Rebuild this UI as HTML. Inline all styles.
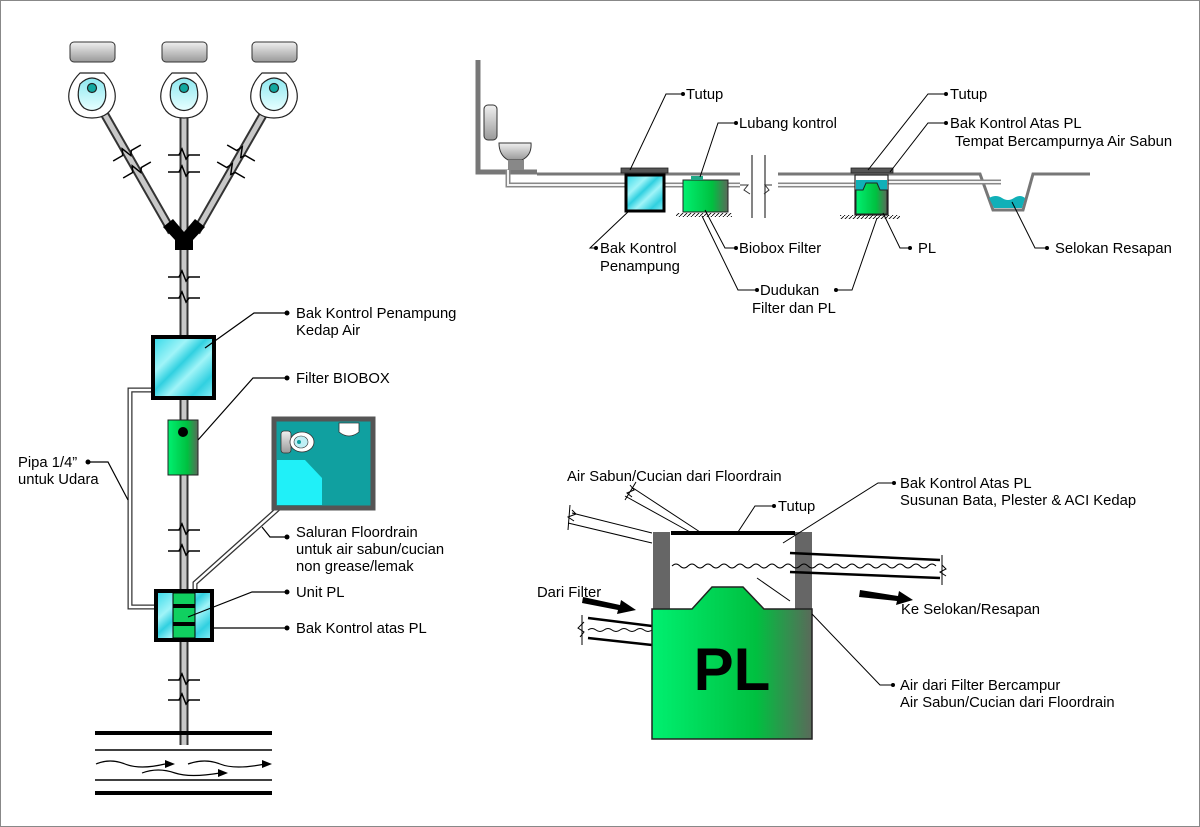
<!DOCTYPE html>
<html><head><meta charset="utf-8"><style>
html,body{margin:0;padding:0;background:#fff}
svg{display:block}
text{font-family:"Liberation Sans",sans-serif;font-size:14.8px;fill:#000}
</style></head><body>
<svg width="1200" height="827" viewBox="0 0 1200 827" xmlns="http://www.w3.org/2000/svg">
<defs>
<linearGradient id="gray" x1="0" y1="0" x2="0" y2="1"><stop offset="0" stop-color="#f0f0f0"/><stop offset="1" stop-color="#999"/></linearGradient>
<linearGradient id="grn" x1="0" y1="0" x2="1" y2="0"><stop offset="0" stop-color="#00f070"/><stop offset="0.65" stop-color="#00c040"/><stop offset="1" stop-color="#5a6a5a"/></linearGradient>
<linearGradient id="bowl" x1="0" y1="0" x2="0" y2="1"><stop offset="0" stop-color="#8de8f0"/><stop offset="1" stop-color="#e8ffff"/></linearGradient>
<linearGradient id="cy" x1="0" y1="0" x2="1" y2="1"><stop offset="0" stop-color="#30d8e8"/><stop offset="0.3" stop-color="#a0f4f8"/><stop offset="0.45" stop-color="#30d0e0"/><stop offset="0.6" stop-color="#a0f4f8"/><stop offset="0.8" stop-color="#30d0e0"/><stop offset="1" stop-color="#90f0f8"/></linearGradient>
<pattern id="hatch" width="4" height="4" patternUnits="userSpaceOnUse"><path d="M0 4 L4 0" stroke="#000" stroke-width="0.8"/></pattern>
<path id="brk" d="M-16 0 L-5 0 L-2 -6 L2 4 L5 0 L16 0" fill="none" stroke="#000" stroke-width="1.5"/>
</defs>
<rect x="0.5" y="0.5" width="1199" height="826" fill="#fff" stroke="#888"/>

<!-- LEFT DIAGRAM -->
<g stroke="#333" stroke-width="1">
<rect x="70" y="42" width="45" height="20" rx="4" fill="url(#gray)"/>
<rect x="162" y="42" width="45" height="20" rx="4" fill="url(#gray)"/>
<rect x="252" y="42" width="45" height="20" rx="4" fill="url(#gray)"/>
</g>
<g stroke="#333" stroke-width="9">
<line x1="184" y1="115" x2="184" y2="745"/>
<line x1="105" y1="115" x2="172" y2="232"/>
<line x1="263" y1="115" x2="196" y2="232"/>
</g>
<g stroke="#c8c8c8" stroke-width="5">
<line x1="184" y1="115" x2="184" y2="745"/>
<line x1="105" y1="115" x2="172" y2="232"/>
<line x1="263" y1="115" x2="196" y2="232"/>
</g>
<g stroke="#222" stroke-width="1.2">
<path d="M80 73 L104 73 Q117 86 115 100 Q111 118 92 118 Q73 118 69 100 Q67 86 80 73Z" fill="#fff"/>
<path d="M172 73 L196 73 Q209 86 207 100 Q203 118 184 118 Q165 118 161 100 Q159 86 172 73Z" fill="#fff"/>
<path d="M262 73 L286 73 Q299 86 297 100 Q293 118 274 118 Q255 118 251 100 Q249 86 262 73Z" fill="#fff"/>
<path d="M80 84 Q92 72 104 84 Q109 100 100 108 Q92 113 84 108 Q75 100 80 84Z" fill="url(#bowl)"/>
<path d="M172 84 Q184 72 196 84 Q201 100 192 108 Q184 113 176 108 Q167 100 172 84Z" fill="url(#bowl)"/>
<path d="M262 84 Q274 72 286 84 Q291 100 282 108 Q274 113 266 108 Q257 100 262 84Z" fill="url(#bowl)"/>
<circle cx="92" cy="88" r="4.5" fill="#10a8a0"/>
<circle cx="184" cy="88" r="4.5" fill="#10a8a0"/>
<circle cx="274" cy="88" r="4.5" fill="#10a8a0"/>
</g>
<path d="M163 227 L173 219 L184 232 L195 219 L205 227 L193 240 L193 250 L175 250 L175 240Z" fill="#000"/>
<!-- break marks -->
<use href="#brk" x="184" y="155"/>
<use href="#brk" x="184" y="172"/>
<use href="#brk" x="184" y="277"/>
<use href="#brk" x="184" y="298"/>
<use href="#brk" x="184" y="530"/>
<use href="#brk" x="184" y="551"/>
<use href="#brk" x="184" y="680"/>
<use href="#brk" x="184" y="700"/>
<use href="#brk" transform="translate(127,153) rotate(-30)"/>
<use href="#brk" transform="translate(137,170) rotate(-30)"/>
<use href="#brk" transform="translate(241,153) rotate(30)"/>
<use href="#brk" transform="translate(231,170) rotate(30)"/>
<path d="M152 390 L130 390 L130 607 L155 607" fill="none" stroke="#333" stroke-width="5"/>
<path d="M152 390 L130 390 L130 607 L155 607" fill="none" stroke="#fff" stroke-width="2.5"/>
<path d="M289 499 L195 583 L195 592" fill="none" stroke="#333" stroke-width="5"/>
<path d="M289 499 L195 583 L195 592" fill="none" stroke="#fff" stroke-width="2.5"/>
<rect x="153" y="337" width="61" height="61" fill="url(#cy)" stroke="#000" stroke-width="4"/>
<rect x="168" y="420" width="30" height="55" fill="url(#grn)" stroke="#222" stroke-width="1"/>
<circle cx="183" cy="432" r="5" fill="#000"/>
<rect x="156" y="591" width="56" height="49" fill="url(#cy)" stroke="#000" stroke-width="4"/>
<rect x="173" y="593" width="22" height="45" fill="#10d060" stroke="#000" stroke-width="1"/>
<rect x="173" y="604" width="22" height="4" fill="#000"/>
<rect x="173" y="622" width="22" height="4" fill="#000"/>
<rect x="274" y="419" width="99" height="89" fill="#10a0a0" stroke="#555" stroke-width="5"/>
<path d="M277 460 L305 460 L322 478 L322 505 L277 505Z" fill="#20f0f8"/>
<rect x="281" y="431" width="10" height="22" rx="3" fill="url(#gray)" stroke="#333" stroke-width="0.8"/>
<ellipse cx="302" cy="442" rx="12" ry="10" fill="#fff" stroke="#333" stroke-width="0.8"/>
<ellipse cx="301" cy="442" rx="7" ry="6" fill="#bfeff5" stroke="#333" stroke-width="0.6"/>
<circle cx="299" cy="442" r="2" fill="#10a0a0"/>
<path d="M339 423 L359 423 L359 432 Q349 440 339 432Z" fill="#fff" stroke="#333" stroke-width="0.8"/>
<g stroke="#000">
<line x1="95" y1="733" x2="272" y2="733" stroke-width="4"/>
<line x1="95" y1="750" x2="272" y2="750" stroke-width="1.5"/>
<line x1="95" y1="780" x2="272" y2="780" stroke-width="1.5"/>
<line x1="95" y1="793" x2="272" y2="793" stroke-width="4"/>
<path d="M96 764 Q110 758 125 764 Q140 770 165 764 M188 764 Q205 758 220 764 Q235 770 265 764 M142 773 Q158 767 175 773 Q190 778 220 773" fill="none" stroke-width="1.2"/>
</g>
<path d="M165 760 L175 764 L165 768Z M262 760 L272 764 L262 768Z M218 769 L228 773 L218 777Z"/>
<g stroke="#000" stroke-width="1.2" fill="none">
<path d="M286 313 L254 313 L205 348"/>
<path d="M286 378 L253 378 L198 440"/>
<path d="M88 462 L108 462 L128 500"/>
<path d="M287 537 L270 537 L262 527"/>
<path d="M287 592 L252 592 L188 617"/>
<path d="M287 628 L212 628"/>
</g>
<g>
<circle cx="287" cy="313" r="2.5"/><circle cx="287" cy="378" r="2.5"/><circle cx="88" cy="462" r="2.5"/>
<circle cx="287" cy="537" r="2.5"/><circle cx="287" cy="592" r="2.5"/><circle cx="287" cy="628" r="2.5"/>
</g>
<text x="296" y="318">Bak Kontrol Penampung</text>
<text x="296" y="335">Kedap Air</text>
<text x="296" y="383">Filter BIOBOX</text>
<text x="18" y="467">Pipa 1/4”</text>
<text x="18" y="484">untuk Udara</text>
<text x="296" y="537">Saluran Floordrain</text>
<text x="296" y="554">untuk air sabun/cucian</text>
<text x="296" y="571">non grease/lemak</text>
<text x="296" y="597">Unit PL</text>
<text x="296" y="633">Bak Kontrol atas PL</text>

<!-- TOP RIGHT -->
<path d="M478 60 L478 172 L537 172" fill="none" stroke="#777" stroke-width="5"/>
<path d="M537 174 L980 174 L993 210 L1023 210 L1033 174 L1090 174" fill="none" stroke="#777" stroke-width="3"/>
<path d="M989 198 Q996 194 1002 198 Q1008 202 1014 198 Q1020 194 1025 198 L1022 208 L994 208Z" fill="#10b0b8"/>
<rect x="484" y="105" width="13" height="35" rx="4" fill="url(#gray)" stroke="#333"/>
<path d="M499 143 L531 143 Q532 155 522 160 L508 160 Q499 155 499 143Z" fill="url(#gray)" stroke="#333"/>
<rect x="508" y="160" width="16" height="10" fill="#888"/>
<path d="M508 170 L508 185 L625 185 M665 185 L683 185 M728 185 L855 185 M888 182 L1001 182" fill="none" stroke="#888" stroke-width="5"/>
<path d="M508 170 L508 185 L625 185 M665 185 L683 185 M728 185 L855 185 M888 182 L1001 182" fill="none" stroke="#f4f4f4" stroke-width="2"/>
<rect x="740" y="150" width="38" height="70" fill="#fff"/>
<path d="M752 155 L752 218 M765 155 L765 218" stroke="#333" stroke-width="1.2"/>
<path d="M740 185 L748 185 L744 190 L750 194 M772 185 L765 185 L769 190 L764 194" stroke="#333" fill="none"/>
<rect x="621" y="168" width="47" height="5" fill="#555" stroke="#222" stroke-width="0.8"/>
<rect x="626" y="175" width="38" height="36" fill="url(#cy)" stroke="#000" stroke-width="3"/>
<rect x="683" y="180" width="45" height="32" fill="url(#grn)" stroke="#222"/>
<rect x="691" y="176" width="12" height="4" fill="#2a8"/>
<rect x="676" y="213" width="56" height="4" fill="url(#hatch)"/>
<rect x="851" y="168" width="42" height="5" fill="#555" stroke="#222" stroke-width="0.8"/>
<rect x="855" y="175" width="33" height="40" fill="#fff" stroke="#222" stroke-width="1.2"/>
<rect x="856" y="180" width="31" height="10" fill="#10b0b8"/>
<path d="M856 190 L863 190 L866 183 L877 183 L880 190 L887 190 L887 214 L856 214Z" fill="url(#grn)" stroke="#222"/>
<rect x="840" y="215" width="60" height="4" fill="url(#hatch)"/>
<g stroke="#000" stroke-width="1" fill="none">
<path d="M682 94 L666 94 L630 170"/>
<path d="M735 123 L718 123 L700 177"/>
<path d="M945 94 L928 94 L868 170"/>
<path d="M945 123 L928 123 L890 172"/>
<path d="M595 248 L590 248 L630 210"/>
<path d="M735 248 L725 248 L705 210"/>
<path d="M910 248 L900 248 L883 213"/>
<path d="M1047 248 L1035 248 L1012 202"/>
<path d="M756 290 L738 290 L702 216"/>
<path d="M836 290 L852 290 L877 218"/>
</g>
<g>
<circle cx="683" cy="94" r="2"/><circle cx="736" cy="123" r="2"/><circle cx="946" cy="94" r="2"/><circle cx="946" cy="123" r="2"/>
<circle cx="596" cy="248" r="2"/><circle cx="736" cy="248" r="2"/><circle cx="910" cy="248" r="2"/><circle cx="1047" cy="248" r="2"/>
<circle cx="757" cy="290" r="2"/><circle cx="836" cy="290" r="2"/>
</g>
<text x="686" y="99">Tutup</text>
<text x="739" y="128">Lubang kontrol</text>
<text x="950" y="99">Tutup</text>
<text x="950" y="128">Bak Kontrol Atas PL</text>
<text x="955" y="146">Tempat Bercampurnya Air Sabun</text>
<text x="600" y="253">Bak Kontrol</text>
<text x="600" y="271">Penampung</text>
<text x="739" y="253">Biobox Filter</text>
<text x="918" y="253">PL</text>
<text x="1055" y="253">Selokan Resapan</text>
<text x="760" y="295">Dudukan</text>
<text x="752" y="313">Filter dan PL</text>

<!-- BOTTOM RIGHT -->
<g stroke="#000" stroke-width="1" fill="none">
<path d="M572 513 L652 533 M568 523 L652 543"/>
<path d="M633 488 L700 532 M625 496 L690 532"/>
<path d="M572 510 L576 514 L568 517 L574 521 M570 505 L568 530"/>
<path d="M630 485 L634 490 L627 493 L632 497 M625 500 L636 482"/>
</g>
<rect x="653" y="532" width="17" height="80" fill="#666"/>
<rect x="795" y="532" width="17" height="80" fill="#666"/>
<rect x="671" y="531" width="124" height="4" fill="#000"/>
<path d="M672 566 q4 -4 8 0 q4 4 8 0 q4 -4 8 0 q4 4 8 0 q4 -4 8 0 q4 4 8 0 q4 -4 8 0 q4 4 8 0 q4 -4 8 0 q4 4 8 0 q4 -4 8 0 q4 4 8 0 q4 -4 8 0 q4 4 8 0 q4 -4 8 0 q4 4 8 0 q4 -4 8 0 q4 4 8 0 q4 -4 8 0 q4 4 8 0 q4 -4 8 0 q4 4 8 0 q4 -4 8 0 q4 4 8 0 q4 -4 8 0 q4 4 8 0 q4 -4 8 0 q4 4 8 0 q4 -4 8 0 q4 4 8 0 q4 -4 8 0 q4 4 8 0 q4 -4 8 0" fill="none" stroke="#000" stroke-width="1"/>
<g stroke="#000" stroke-width="2.5"><line x1="790" y1="553" x2="940" y2="560"/><line x1="790" y1="572" x2="940" y2="578"/></g>
<path d="M942 555 L942 585 M942 565 L946 569 L940 572 L946 576" stroke="#000" fill="none"/>
<g stroke="#000" stroke-width="2.5"><line x1="588" y1="618" x2="652" y2="626"/><line x1="588" y1="638" x2="652" y2="645"/></g>
<path d="M588 630 q4 -3 8 0 q4 3 8 0 q4 -3 8 0 q4 3 8 0 q4 -3 8 0 q4 3 8 0 q4 -3 8 0 q4 3 8 0" fill="none" stroke="#000"/>
<path d="M582 615 L582 645 M584 622 L578 628 L584 632 L580 637" stroke="#000" fill="none"/>
<path d="M652 609 L692 609 L712 587 L743 587 L764 609 L812 609 L812 739 L652 739Z" fill="url(#grn)" stroke="#222" stroke-width="1.5"/>
<text x="732" y="690" text-anchor="middle" style="font-size:60px;font-weight:bold">PL</text>
<path d="M583 597 L620 605 L621 600 L636 610 L617 614 L618 610 L582 603Z" fill="#000"/>
<path d="M860 590 L898 596 L899 591 L913 600 L896 605 L897 601 L859 597Z" fill="#000"/>
<g stroke="#000" stroke-width="1" fill="none">
<path d="M773 506 L755 506 L738 532"/>
<path d="M893 483 L878 483 L783 543"/>
<path d="M892 685 L880 685 L812 614"/>
<path d="M790 601 L757 578"/>
</g>
<circle cx="774" cy="506" r="2"/><circle cx="894" cy="483" r="2"/><circle cx="893" cy="685" r="2"/>
<text x="567" y="481">Air Sabun/Cucian dari Floordrain</text>
<text x="778" y="511">Tutup</text>
<text x="900" y="488">Bak Kontrol Atas PL</text>
<text x="900" y="505">Susunan Bata, Plester &amp; ACI Kedap</text>
<text x="537" y="597">Dari Filter</text>
<text x="901" y="614">Ke Selokan/Resapan</text>
<text x="900" y="690">Air dari Filter Bercampur</text>
<text x="900" y="707">Air Sabun/Cucian dari Floordrain</text>
</svg>
</body></html>
